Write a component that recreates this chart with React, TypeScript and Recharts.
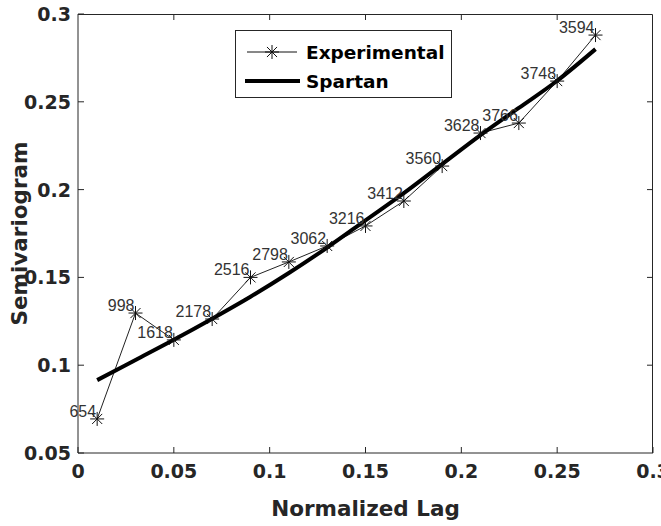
import { ComposedChart, Line, XAxis, YAxis, Legend, LabelList } from "recharts";

const lags = [0.01, 0.03, 0.05, 0.07, 0.09, 0.11, 0.13, 0.15, 0.17, 0.19, 0.21, 0.23, 0.25, 0.27];
const experimental = [0.0694, 0.1297, 0.1144, 0.1263, 0.15, 0.1588, 0.1679, 0.1793, 0.1935, 0.2134, 0.2322, 0.2379, 0.2618, 0.288];
const spartan = [0.0915, 0.103, 0.1145, 0.1265, 0.139, 0.1525, 0.167, 0.1825, 0.198, 0.2145, 0.231, 0.2465, 0.262, 0.28];
const pairCounts = [654, 998, 1618, 2178, 2516, 2798, 3062, 3216, 3412, 3560, 3628, 3766, 3748, 3594];
const xTicks = [0, 0.05, 0.1, 0.15, 0.2, 0.25, 0.3];
const yTicks = [0.05, 0.1, 0.15, 0.2, 0.25, 0.3];

const rows = lags.map((lag, i) => ({ lag, exp: experimental[i], fit: spartan[i], n: pairCounts[i] }));

const ink = "#262626";
const boldFont = "'DejaVu Sans', sans-serif";
const TICK = 6;

const W = 661, H = 526;
const margin = { top: 14, right: 8, bottom: 0, left: 0 };
// edges of the plot box that no axis draws (top and right)
const plotTop = margin.top;
const plotRight = W - margin.right;

function Star({ cx, cy, r = 7 }: { cx: number; cy: number; r?: number }) {
  const d = r * 0.72;
  return (
    <path
      d={`M${cx - r},${cy}H${cx + r}M${cx},${cy - r}V${cy + r}M${cx - d},${cy - d}L${cx + d},${cy + d}M${cx - d},${cy + d}L${cx + d},${cy - d}`}
      stroke="#111" strokeWidth={1} fill="none"
    />
  );
}

const starDot = (p: any) => (p.cx == null ? <g key={p.index} /> : <Star key={p.index} cx={p.cx} cy={p.cy} />);

function CountLabel({ x, y, value }: any) {
  return (
    <text x={x - 1} y={y - 2} textAnchor="end" fontFamily="'Liberation Sans', Arial, sans-serif" fontSize={16} fill="#333">
      {value}
    </text>
  );
}

// bottom tick: inward mark, label, and the matching mark on the top edge
function BottomTick({ x, y, payload, index }: any) {
  const inner = index > 0 && index < xTicks.length - 1;
  return (
    <g>
      <line x1={x} x2={x} y1={y} y2={y - TICK} stroke={ink} />
      {inner && <line x1={x} x2={x} y1={plotTop} y2={plotTop + TICK} stroke={ink} />}
      <text x={x} y={y + 25} textAnchor="middle" fontFamily={boldFont} fontWeight="bold" fontSize={19} fill={ink}>
        {String(payload.value)}
      </text>
    </g>
  );
}

// left tick: inward mark, label, and the matching mark on the right edge
function LeftTick({ x, y, payload, index }: any) {
  const inner = index > 0 && index < yTicks.length - 1;
  return (
    <g>
      <line x1={x} x2={x + TICK} y1={y} y2={y} stroke={ink} />
      {inner && <line x1={plotRight} x2={plotRight - TICK} y1={y} y2={y} stroke={ink} />}
      <text x={x - 7} y={y + 7} textAnchor="end" fontFamily={boldFont} fontWeight="bold" fontSize={19} fill={ink}>
        {String(payload.value)}
      </text>
    </g>
  );
}

function XTitle({ viewBox }: any) {
  const cx = viewBox.x + viewBox.width / 2;
  const left = viewBox.x, right = viewBox.x + viewBox.width, bottom = viewBox.y;
  return (
    <g>
      {/* close the box: top and right edges */}
      <path d={`M${left},${plotTop + 0.5}H${right - 0.5}V${bottom}`} stroke={ink} strokeWidth={1} fill="none" />
      <text x={cx} y={516} textAnchor="middle" fontFamily={boldFont} fontWeight="bold" fontSize={21.5} fill={ink}>
        Normalized Lag
      </text>
    </g>
  );
}

function YTitle({ viewBox }: any) {
  const cy = viewBox.y + viewBox.height / 2;
  return (
    <text x={27} y={cy} transform={`rotate(-90, 27, ${cy})`} textAnchor="middle" fontFamily={boldFont} fontWeight="bold" fontSize={21.5} fill={ink}>
      Semivariogram
    </text>
  );
}

function LegendBox() {
  const txt = { fontFamily: boldFont, fontWeight: "bold" as const, fontSize: 18.5, fill: "#000" };
  return (
    <svg width={217} height={68} style={{ display: "block" }}>
      <rect x={0.5} y={0.5} width={216} height={67} fill="#fff" stroke={ink} />
      <line x1={12} x2={62} y1={22} y2={22} stroke="#111" strokeWidth={1} />
      <Star cx={37} cy={22} />
      <text x={71} y={29} {...txt}>Experimental</text>
      <line x1={10} x2={65} y1={51} y2={51} stroke="#000" strokeWidth={4} />
      <text x={71} y={58} {...txt}>Spartan</text>
    </svg>
  );
}

export default function App() {
  return (
    <div style={{ position: "absolute", left: 0, top: 0, width: W, height: H, background: "#fff" }}>
      <ComposedChart width={W} height={H} data={rows} margin={margin}>
        <XAxis dataKey="lag" type="number" domain={[0, 0.3]} ticks={xTicks}
          height={73} tickSize={0} tickMargin={0} tickLine={false} axisLine={{ stroke: ink }}
          tick={<BottomTick />} interval={0} label={<XTitle />} />
        <YAxis type="number" domain={[0.05, 0.3]} ticks={yTicks} width={78}
          tickSize={0} tickMargin={0} tickLine={false} axisLine={{ stroke: ink }}
          tick={<LeftTick />} interval={0} label={<YTitle />} />
        <Legend layout="vertical" align="center" verticalAlign="middle" content={<LegendBox />}
          wrapperStyle={{ position: "absolute", left: 235, top: 30, width: 217, height: 68 }} />
        <Line dataKey="exp" name="Experimental" stroke="#222" strokeWidth={1} dot={starDot} activeDot={false}
          isAnimationActive={false}>
          <LabelList dataKey="n" content={<CountLabel />} />
        </Line>
        <Line dataKey="fit" name="Spartan" type="monotone" stroke="#000" strokeWidth={4}
          dot={false} activeDot={false} isAnimationActive={false} />
      </ComposedChart>
    </div>
  );
}
